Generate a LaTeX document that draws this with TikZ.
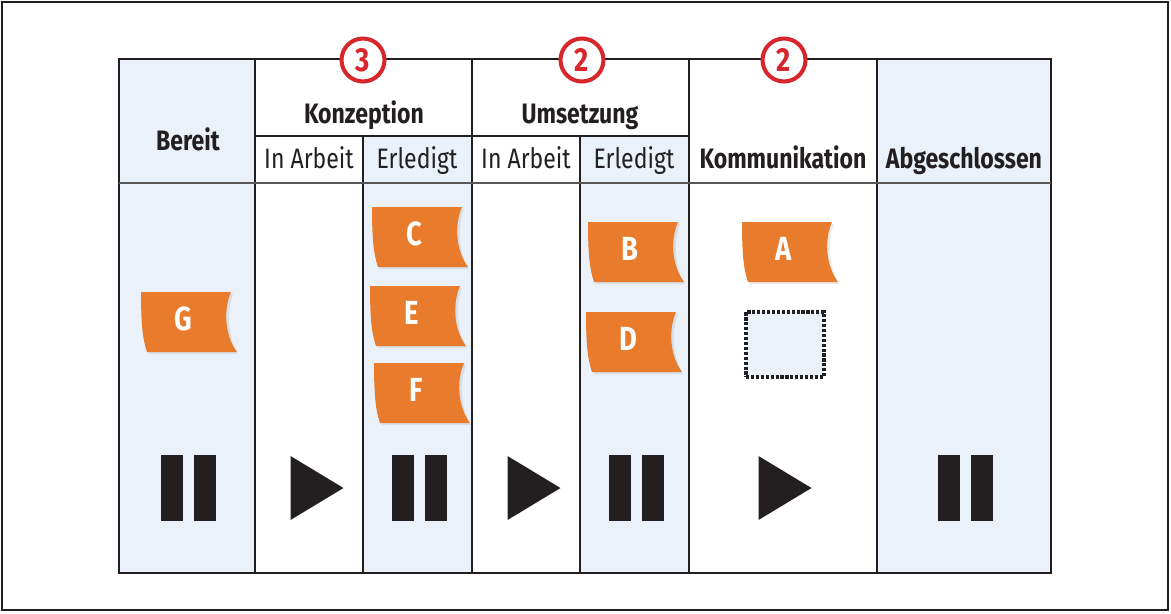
\documentclass[tikz,border=0pt]{standalone}
\usepackage{fontspec}
\setmainfont{Fira Sans}[FakeStretch=0.82]
\usepackage{tikz}
\usetikzlibrary{
  positioning,
  calc
}
\usepackage{xcolor}
\definecolor{lane}{HTML}{EAF1F9}
\definecolor{card}{HTML}{E97C2C}
\definecolor{wip}{HTML}{D7262C}
\definecolor{ink}{HTML}{231F20}

\begin{document}
\begin{tikzpicture}[
  x=0.02cm, y=-0.02cm,
  col/.style={draw=ink, line width=1.4pt},
  head/.style={font=\fontsize{16}{18}\selectfont\bfseries, text=ink, inner sep=0pt, anchor=base},
  sub/.style={font=\fontsize{16}{18}\selectfont, text=ink, inner sep=0pt, anchor=base},
  limit/.style={circle, draw=wip, line width=2.3pt, fill=white, minimum size=0.86cm,
                inner sep=0pt, text=wip, font=\fontsize{19}{20}\selectfont\bfseries},
  cardtext/.style={text=white, font=\fontsize{19}{20}\selectfont\bfseries, inner sep=0pt, anchor=base},
  card/.pic={
    \fill[black, opacity=0.08] (-45,-28) -- (45,-28) .. controls (38,-10) and (40,16) .. (50,32)
      -- (-39,32) .. controls (-43,20) and (-45,7) .. cycle;
    \fill[card] (-47,-30) -- (43,-30) .. controls (35,-12) and (37,14) .. (49,30)
      -- (-41,30) .. controls (-45,18) and (-47,5) .. cycle;
    \node[cardtext] (-t) at (-5,8) {#1};
  },
  pause/.pic={
    \fill[ink] (-27.5,-33) rectangle (-5.5,33);
    \fill[ink] (5.5,-33) rectangle (27.5,33);
  },
  play/.pic={
    \fill[ink] (-26,-32) -- (27,0) -- (-26,32) -- cycle;
  }
]
  \useasboundingbox (0,0) rectangle (1171,613);
  \draw[ink, line width=0.6pt] (2,2) rectangle (1168,610);

  % Lanes
  \fill[lane] (119,59) rectangle (255,573);
  \fill[lane] (363,136) rectangle (472,573);
  \fill[lane] (580,136) rectangle (689,573);
  \fill[lane] (877,59) rectangle (1051,573);

  % Grid
  \draw[col] (119,59) rectangle (1051,573);
  \draw[col] (255,59) -- (255,573);
  \draw[col] (472,59) -- (472,573);
  \draw[col] (689,59) -- (689,573);
  \draw[col] (877,59) -- (877,573);
  \draw[col] (363,136) -- (363,573);
  \draw[col] (580,136) -- (580,573);
  \draw[col] (255,136) -- (689,136);
  \draw[col, draw=ink!75] (119,183) -- (1051,183);

  % Headers
  \node[head] (bereit) at (188,150) {Bereit};
  \node[head] (konz) at (364,123) {Konzeption};
  \node[head] (ums) at (580,123) {Umsetzung};
  \node[sub] (konzA) at (309,168) {In Arbeit};
  \node[sub] (konzE) at (417,168) {Erledigt};
  \node[sub] (umsA) at (526,168) {In Arbeit};
  \node[sub] (umsE) at (634,168) {Erledigt};
  \node[head] (komm) at (783,168) {Kommunikation};
  \node[head] (done) at (964,168) {Abgeschlossen};

  % WIP limits
  \node[limit] (limKonz) at (363,60) {3};
  \node[limit] (limUms) at (582,60) {2};
  \node[limit] (limKomm) at (784,60) {2};

  % Cards
  \pic (cG) at (188,322) {card=G};
  \pic (cC) at (419,237) {card=C};
  \pic (cE) at (417,316) {card=E};
  \pic (cF) at (421,393) {card=F};
  \pic (cB) at (635,252) {card=B};
  \pic (cD) at (633,342) {card=D};
  \pic (cA) at (789,252) {card=A};
  \node[draw=ink, densely dotted, line width=1.8pt, fill=lane,
        minimum width=1.56cm, minimum height=1.3cm] (slot) at (785,344.5) {};

  % Signals
  \pic at (188.5,488) {pause};
  \pic at (316.5,488) {play};
  \pic at (419,488) {pause};
  \pic at (533.5,488) {play};
  \pic at (636,488) {pause};
  \pic at (784.5,488) {play};
  \pic at (965,488) {pause};
\end{tikzpicture}
\end{document}
